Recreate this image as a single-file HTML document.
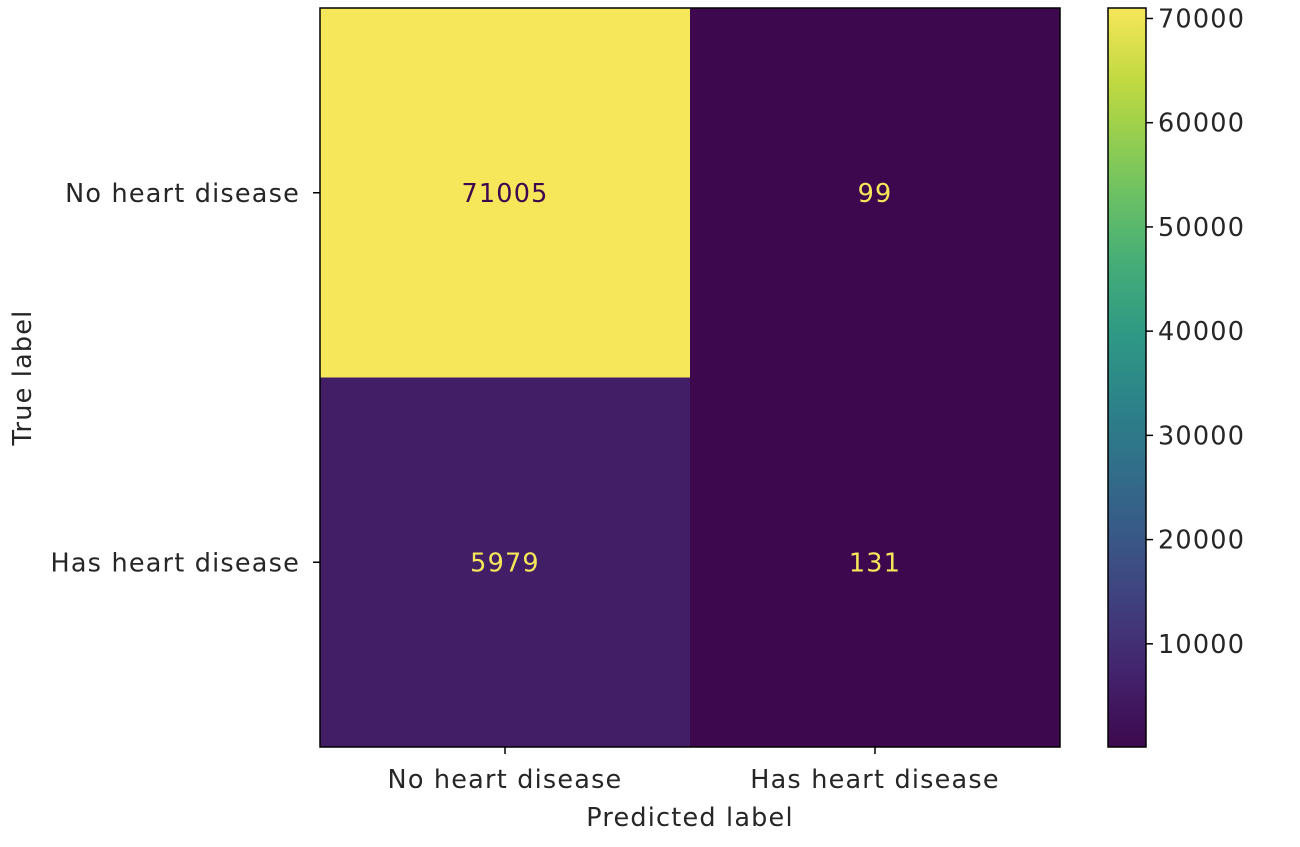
<!DOCTYPE html>
<html><head><meta charset="utf-8">
<style>
html,body{margin:0;padding:0;background:#fff;}
svg text{font-family:"DejaVu Sans","Liberation Sans",sans-serif;fill:#262626;letter-spacing:1.2px;}
</style></head>
<body>
<svg id="chart" width="1300" height="842" xmlns="http://www.w3.org/2000/svg"></svg>
<script>
const rowLabels = ["No heart disease", "Has heart disease"];
const colLabels = ["No heart disease", "Has heart disease"];
const cellValues = [[71005, 99], [5979, 131]];
const cbTicks = [10000, 20000, 30000, 40000, 50000, 60000, 70000];

const NS = "http://www.w3.org/2000/svg";
const svg = document.getElementById("chart");
const L = 320, R = 1060, T = 8, B = 747;
const CBL = 1108, CBR = 1146;
const FS = "25.5";
const flat = cellValues.flat();
const vmin = Math.min(...flat), vmax = Math.max(...flat);

const vir = [[61,8,78],[68,38,112],[62,72,130],[52,100,137],[44,126,137],[46,152,133],[72,176,118],[122,198,92],[186,216,62],[246,230,90]];
function viridis(t){
  t = Math.max(0, Math.min(1, t));
  const p = t * (vir.length - 1), i = Math.min(Math.floor(p), vir.length - 2), f = p - i;
  const c = vir[i].map((v, k) => Math.round(v + (vir[i+1][k] - v) * f));
  return `rgb(${c[0]},${c[1]},${c[2]})`;
}
function mk(tag, attrs, parent){
  const e = document.createElementNS(NS, tag);
  for (const k in attrs) e.setAttribute(k, attrs[k]);
  (parent || svg).appendChild(e);
  return e;
}
const nR = rowLabels.length, nC = colLabels.length;
const cw = (R - L) / nC, ch = (B - T) / nR;
const xC = j => L + cw * (j + 0.5);
const yC = i => T + ch * (i + 0.5);
const cbY = v => B - (v - vmin) / (vmax - vmin) * (B - T);

cellValues.forEach((row, i) => row.forEach((v, j) => {
  const t = (v - vmin) / (vmax - vmin);
  const r = mk("rect", {x: L + cw*j, y: T + ch*i, width: cw + 0.5, height: ch + 0.5, fill: viridis(t)});
  
  
  const tx = mk("text", {x: xC(j), y: yC(i) + 9, "text-anchor": "middle", "font-size": FS});
  
  
  tx.style.fill = t > 0.5 ? viridis(0) : viridis(1);
  tx.textContent = v;
}));
const fr = mk("rect", {x: L, y: T, width: R - L, height: B - T, fill: "none", stroke: "#000", "stroke-width": "1.5"});



rowLabels.forEach((lab, i) => {
  mk("line", {x1: L - 7, x2: L, y1: yC(i), y2: yC(i), stroke: "#000", "stroke-width": "1.5"});
  const t = mk("text", {x: L - 20, y: yC(i) + 9, "text-anchor": "end", "font-size": FS});
  
  
  t.textContent = lab;
});
colLabels.forEach((lab, j) => {
  mk("line", {x1: xC(j), x2: xC(j), y1: B, y2: B + 7, stroke: "#000", "stroke-width": "1.5"});
  const t = mk("text", {x: xC(j), y: B + 41, "text-anchor": "middle", "font-size": FS});
  
  
  t.textContent = lab;
});
const xt = mk("text", {x: (L + R) / 2, y: 826, "text-anchor": "middle", "font-size": FS});


xt.textContent = "Predicted label";
const yt = mk("text", {x: 0, y: 0, "text-anchor": "middle", "font-size": FS, transform: `translate(31,${(T+B)/2}) rotate(-90)`});


yt.textContent = "True label";

const defs = mk("defs", {});
const g = mk("linearGradient", {id: "cbg", x1: "0", y1: "1", x2: "0", y2: "0"}, defs);
for (let k = 0; k <= 20; k++) mk("stop", {offset: k/20, "stop-color": viridis(k/20)}, g);
const cb = mk("rect", {x: CBL, y: T, width: CBR - CBL, height: B - T, fill: "url(#cbg)", stroke: "#000", "stroke-width": "1.5"});


cbTicks.forEach(v => {
  const y = cbY(v);
  mk("line", {x1: CBR, x2: CBR + 7, y1: y, y2: y, stroke: "#000", "stroke-width": "1.5"});
  const t = mk("text", {x: CBR + 12, y: y + 9, "font-size": FS});
  
  
  t.textContent = v;
});
</script>
</body></html>
